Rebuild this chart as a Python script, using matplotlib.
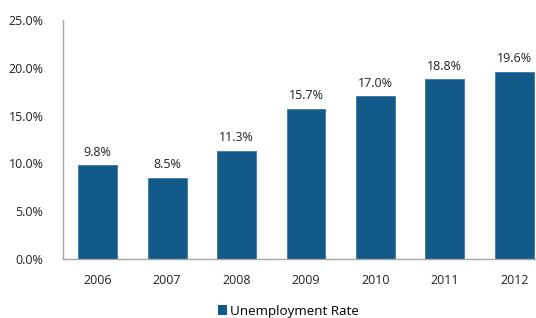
import matplotlib
matplotlib.use("Agg")
import matplotlib.pyplot as plt
from matplotlib.ticker import FuncFormatter
from matplotlib.patches import Patch

years = ["2006", "2007", "2008", "2009", "2010", "2011", "2012"]
rates = [9.8, 8.5, 11.3, 15.7, 17.0, 18.8, 19.6]
yticks = [0, 5, 10, 15, 20, 25]

plt.rcParams['font.family'] = ['Open Sans', 'DejaVu Sans']
bar_color = "#135A8B"

fig = plt.figure(figsize=(5.36, 3.18), dpi=100)
ax = fig.add_axes([63/536, 59/318, 486/536, 239/318])

x = range(len(years))
bars = ax.bar(x, rates, width=0.56, color=bar_color, edgecolor="#3C7AA6", linewidth=0.6)
for xi, r in zip(x, rates):
    ax.text(xi, r + 0.7, f"{r:.1f}%", ha="center", va="bottom", fontsize=9, color="#222222")

ax.set_xlim(-0.5, len(years) - 0.5)
ax.set_ylim(0, 25)
ax.set_yticks(yticks)
ax.yaxis.set_major_formatter(FuncFormatter(lambda v, p: f"{v:.1f}%"))
ax.set_xticks(list(x))
ax.set_xticklabels(years)
ax.tick_params(axis="both", length=0, labelsize=9, colors="#222222")
ax.tick_params(axis="y", pad=14)
ax.tick_params(axis="x", pad=11)

for s in ["top", "right"]:
    ax.spines[s].set_visible(False)
for s in ["left", "bottom"]:
    ax.spines[s].set_color("#A6A6A6")
    ax.spines[s].set_linewidth(1)

handle = Patch(facecolor=bar_color, label="Unemployment Rate")
fig.legend(handles=[handle], loc="center", bbox_to_anchor=(288/536, 1 - 311/318),
           frameon=False, fontsize=9.6, handlelength=0.7, handleheight=0.7,
           handletextpad=0.2, borderpad=0)

fig.savefig("out.png", dpi=100)
